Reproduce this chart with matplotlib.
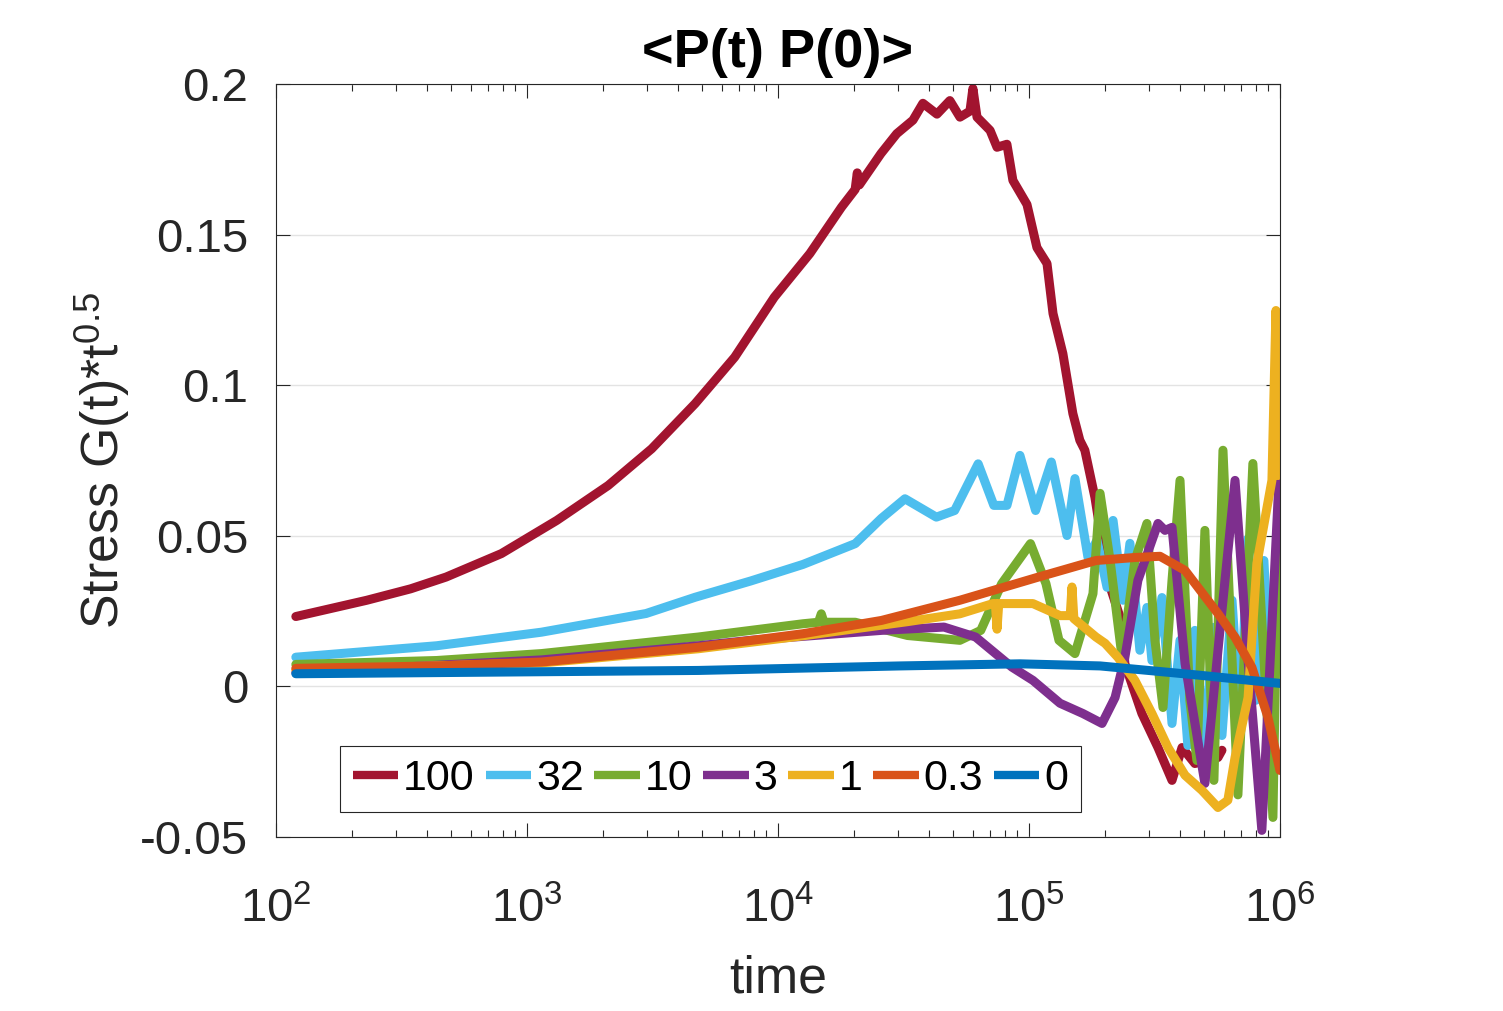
import numpy as np
import matplotlib
matplotlib.use('Agg')
import matplotlib.pyplot as plt

plt.rcParams['font.family'] = ['Liberation Sans', 'DejaVu Sans']
plt.rcParams['mathtext.fontset'] = 'custom'
plt.rcParams['mathtext.rm'] = 'Liberation Sans'
plt.rcParams['mathtext.it'] = 'Liberation Sans:italic'
plt.rcParams['mathtext.default'] = 'regular'

#%% data (time, G(t)*t^0.5)

labels = ['100', '32', '10', '3', '1', '0.3', '0']
colors = ['#A2142F', '#4DBEEE', '#77AC30', '#7E2F8E', '#EDB120', '#D95319', '#0072BD']

t_100 = [120, 230, 344, 476, 791, 1314, 2106, 3140, 4679, 6723,
         9667, 13400, 17910, 20300, 20700, 21100, 25720, 29730, 34500, 37800,
         43000, 48400, 53100, 58200, 59800, 62100, 70000, 74600, 81700, 86300,
         98200, 107600, 118000, 124700, 136500, 149600, 159500, 167000, 183200, 206600,
         235000, 241000, 281800, 326600, 371500, 407200, 458300, 566200, 587400]
g_100 = [0.0232, 0.0286, 0.0324, 0.0363, 0.0441, 0.0551, 0.0667, 0.0789, 0.0939, 0.1093,
         0.1292, 0.1437, 0.1591, 0.165, 0.1705, 0.1665, 0.1769, 0.1835, 0.188, 0.1936,
         0.190, 0.1945, 0.189, 0.191, 0.1985, 0.189, 0.1846, 0.179, 0.180, 0.168,
         0.160, 0.1457, 0.1404, 0.1238, 0.1105, 0.0906, 0.0817, 0.0784, 0.0627, 0.0352,
         0.0209, 0.0076, -0.009, -0.0203, -0.0312, -0.0203, -0.0256, -0.0236, -0.0212]

t_32 = [120, 437, 1142, 2982, 4679, 7786, 12580, 20320, 25840, 32060,
        42760, 50580, 62750, 72450, 81720, 92050, 106300, 122800, 141800, 152500,
        171800, 186700, 204700, 216300, 237100, 252500, 276700, 295100, 309000, 338800,
        371500, 399800, 429500, 458300, 502300, 540600, 587400, 644200, 693400, 746400,
        801800, 863000, 929000, 1000000]
g_32 = [0.0097, 0.0135, 0.0180, 0.0242, 0.0296, 0.0350, 0.0405, 0.0474, 0.0558, 0.0623,
        0.0562, 0.0584, 0.0739, 0.0601, 0.0601, 0.0767, 0.0584, 0.0745, 0.0501, 0.069,
        0.0429, 0.0485, 0.0329, 0.0551, 0.0286, 0.0475, 0.012, 0.0262, 0.0086, 0.0295,
        -0.0123, 0.0153, -0.0196, 0.0186, -0.0212, 0.0196, -0.0163, 0.0286, -0.0113, 0.0491,
        -0.0046, 0.0418, -0.0113, 0.0286]

t_10 = [120, 437, 1142, 4819, 12580, 14500, 14880, 15250, 20320, 32830,
        53050, 64270, 77870, 101400, 116900, 131700, 152500, 179900, 192000, 210500,
        235000, 264300, 295100, 317700, 342000, 371500, 399800, 437500, 466800, 502300,
        545600, 592900, 680000, 780000, 937600, 990000, 1000000]
g_10 = [0.0073, 0.0086, 0.0109, 0.0164, 0.0208, 0.0213, 0.0241, 0.0213, 0.0213, 0.0169,
        0.0153, 0.0186, 0.0341, 0.0474, 0.0341, 0.0153, 0.0109, 0.0308, 0.0641, 0.0418,
        0.0096, 0.0418, 0.0541, 0.0153, -0.007, 0.0352, 0.0684, -0.0046, -0.0246, 0.0518,
        -0.0312, 0.0784, -0.036, 0.074, -0.0435, 0.0684, 0.05]

t_3 = [120, 1142, 4819, 7786, 25840, 45850, 61280, 85560, 103700, 133000,
       164000, 195500, 220300, 241000, 271700, 326600, 348300, 371500, 418700, 502300,
       576700, 662300, 746400, 847000, 1000000]
g_3 = [0.0046, 0.0088, 0.0135, 0.0153, 0.0186, 0.0197, 0.0164, 0.0064, 0.002, -0.0056,
       -0.009, -0.0123, -0.0037, 0.0096, 0.0352, 0.0541, 0.0518, 0.0528, 0.0076, -0.0322,
       0.0186, 0.0684, 0.0086, -0.0478, 0.075]

t_1 = [120, 1142, 4819, 12580, 32830, 53050, 71900, 73500, 74600, 75800,
       103700, 133000, 146000, 148400, 151000, 184900, 201000, 226400, 264300, 309000,
       358100, 418700, 488800, 566200, 620000, 662300, 746400, 809200, 929000, 964000,
       980000, 1000000]
g_1 = [0.0055, 0.0078, 0.0125, 0.0168, 0.0215, 0.0241, 0.0275, 0.0275, 0.019, 0.0275,
       0.0275, 0.0235, 0.0235, 0.033, 0.0225, 0.0164, 0.0143, 0.0096, 0.002, -0.009,
       -0.0203, -0.0295, -0.0345, -0.0402, -0.0378, -0.0236, -0.0037, 0.0408, 0.0684, 0.1248,
       0.07, 0.08]

t_03 = [120, 437, 1142, 4819, 12580, 25840, 53050, 109000, 184900, 264300,
        332700, 418700, 566200, 662300, 773200, 895800, 1000000]
g_03 = [0.0060, 0.0068, 0.0081, 0.0130, 0.0175, 0.0219, 0.0286, 0.0363, 0.0418, 0.0428,
        0.0432, 0.0385, 0.0242, 0.0163, 0.0063, -0.0103, -0.0279]

t_0 = [120, 4819, 30600, 92000, 192000, 480000, 1000000]
g_0 = [0.0042, 0.0053, 0.0068, 0.0075, 0.0068, 0.0037, 0.001]

times = [t_100, t_32, t_10, t_3, t_1, t_03, t_0]
values = [g_100, g_32, g_10, g_3, g_1, g_03, g_0]

yticks = [-0.05, 0, 0.05, 0.1, 0.15, 0.2]
ytick_labels = ['-0.05', '0', '0.05', '0.1', '0.15', '0.2']

#%% plot

fig = plt.figure(figsize=(15.03, 10.11), dpi=100)
ax = fig.add_axes([0.1836, 0.1721, 0.6680, 0.7448])

for t, g, c, lab in zip(times, values, colors, labels):
    ax.plot(t, g, color=c, lw=6.5, label=lab, solid_capstyle='round', solid_joinstyle='round')

ax.set_xscale('log')
ax.set_xlim(1e2, 1e6)
ax.set_ylim(-0.05, 0.2)
ax.set_yticks(yticks)
ax.set_yticklabels(ytick_labels)
ax.set_xticks([1e2, 1e3, 1e4, 1e5, 1e6])

ax.yaxis.grid(True, color='#e3e3e3', lw=1)
ax.set_axisbelow(True)

ax.tick_params(which='both', direction='in', top=True, right=True, colors='#262626',
               labelsize=34, width=0.8)
ax.tick_params(which='major', length=10)
ax.tick_params(which='minor', length=5)
ax.tick_params(axis='y', pad=20)
ax.tick_params(axis='x', pad=36)
for s in ax.spines.values():
    s.set_color('#262626')
    s.set_linewidth(0.8)

ax.set_xlabel('time', fontsize=37.4, color='#262626', labelpad=16)
ax.set_ylabel('Stress G(t)*t$^{0.5}$', fontsize=37.4, color='#262626', labelpad=6)
ax.set_title('<P(t) P(0)>', fontsize=39, fontweight='bold', pad=12)

leg = ax.legend(loc='lower left', bbox_to_anchor=(0.0637, 0.033), borderaxespad=0,
                ncol=7, fontsize=31, handlelength=1.05, handletextpad=0.12,
                columnspacing=0.25, borderpad=0.3, fancybox=False, framealpha=1)
leg.get_frame().set_edgecolor('#262626')
leg.get_frame().set_linewidth(0.8)
for line in leg.get_lines():
    line.set_linewidth(6)
    line.set_solid_capstyle('butt')

plt.savefig('out.png', dpi=100)
